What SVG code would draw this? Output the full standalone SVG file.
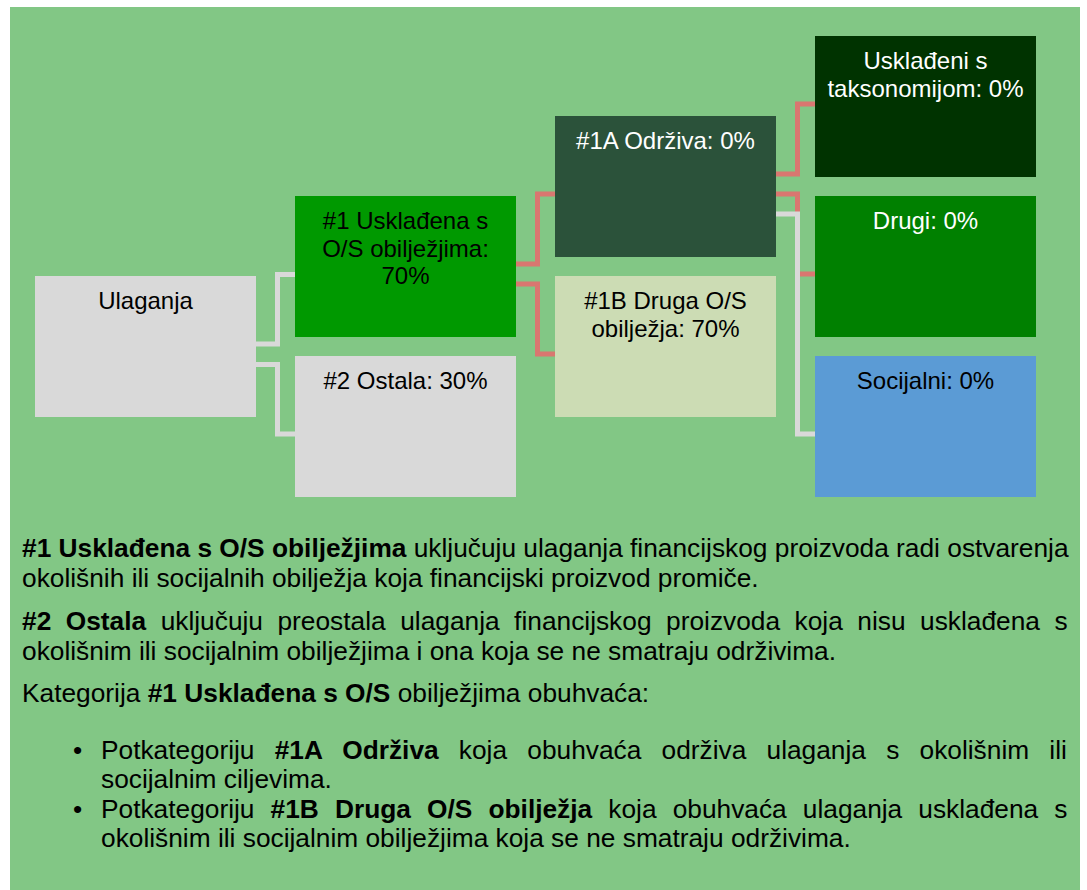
<svg xmlns="http://www.w3.org/2000/svg" width="1087" height="890" viewBox="0 0 1087 890">
<style>
text{font-family:"Liberation Sans",Arial,sans-serif;}
.n{font-size:24px;text-anchor:middle;fill:#000;}
.w{fill:#fff;}
.c{fill:none;stroke-width:5;stroke-linejoin:miter;stroke-linecap:butt;}
.g{stroke:#D9D9D9;}
.p{stroke:#D97770;}
.t{font-size:26.3px;fill:#000;}
.b{font-weight:bold;}
</style>
<rect x="0" y="0" width="1087" height="890" fill="#fff"/>
<rect x="10" y="7" width="1070" height="883" fill="#82C785"/>
<g id="connectors">
<path class="c g" d="M256,344 H277.5 V274.5 H295"/>
<path class="c g" d="M256,364.5 H277.5 V434 H295"/>
<path class="c p" d="M516,264 H537.5 V194 H555"/>
<path class="c p" d="M516,284 H537.5 V354 H555"/>
<path class="c p" d="M776,174 H797.5 V104 H815"/>
<path class="c p" d="M776,194 H797.5 V274 H815"/>
<path class="c g" d="M776,214 H797.5 V434 H815"/>
</g>
<g id="ulaganja">
<rect x="35" y="276" width="221" height="141" fill="#D9D9D9"/>
<text class="n" x="145.5" y="309">Ulaganja</text>
</g>
<g id="n1">
<rect x="295" y="196" width="221" height="141" fill="#009900"/>
<text class="n" x="405.5" y="229">#1 Usklađena s</text>
<text class="n" x="405.5" y="256.5">O/S obilježjima:</text>
<text class="n" x="405.5" y="284">70%</text>
</g>
<g id="n2">
<rect x="295" y="356" width="221" height="141" fill="#D9D9D9"/>
<text class="n" x="405.5" y="389">#2 Ostala: 30%</text>
</g>
<g id="n1a">
<rect x="555" y="116" width="221" height="141" fill="#2B523A"/>
<text class="n w" x="665.5" y="149">#1A Održiva: 0%</text>
</g>
<g id="n1b">
<rect x="555" y="276" width="221" height="141" fill="#CCDCB4"/>
<text class="n" x="665.5" y="309">#1B Druga O/S</text>
<text class="n" x="665.5" y="336.5">obilježja: 70%</text>
</g>
<g id="taks">
<rect x="815" y="36" width="221" height="141" fill="#003300"/>
<text class="n w" x="925.5" y="69">Usklađeni s</text>
<text class="n w" x="925.5" y="96.5">taksonomijom: 0%</text>
</g>
<g id="drugi">
<rect x="815" y="196" width="221" height="141" fill="#008000"/>
<text class="n w" x="925.5" y="229">Drugi: 0%</text>
</g>
<g id="socijalni">
<rect x="815" y="356" width="221" height="141" fill="#5B9BD5"/>
<text class="n" x="925.5" y="389">Socijalni: 0%</text>
</g>
<g id="legend">
<text class="t" x="22" y="557"><tspan class="b">#1 Usklađena s O/S obilježjima</tspan> uključuju ulaganja financijskog proizvoda radi ostvarenja</text>
<text class="t" x="22" y="587">okolišnih ili socijalnih obilježja koja financijski proizvod promiče.</text>
<text class="t" x="22" y="630" style="word-spacing:7.2px"><tspan class="b">#2 Ostala</tspan> uključuju preostala ulaganja financijskog proizvoda koja nisu usklađena s</text>
<text class="t" x="22" y="660">okolišnim ili socijalnim obilježjima i ona koja se ne smatraju održivima.</text>
<text class="t" x="22" y="702">Kategorija <tspan class="b">#1 Usklađena s O/S</tspan> obilježjima obuhvaća:</text>
<text class="t" x="73" y="759">•</text>
<text class="t" x="101" y="759" style="word-spacing:12.9px">Potkategoriju <tspan class="b">#1A Održiva</tspan> koja obuhvaća održiva ulaganja s okolišnim ili</text>
<text class="t" x="101" y="788">socijalnim ciljevima.</text>
<text class="t" x="73" y="818">•</text>
<text class="t" x="101" y="818" style="word-spacing:8.8px">Potkategoriju <tspan class="b">#1B Druga O/S obilježja</tspan> koja obuhvaća ulaganja usklađena s</text>
<text class="t" x="101" y="847">okolišnim ili socijalnim obilježjima koja se ne smatraju održivima.</text>
</g>
</svg>
